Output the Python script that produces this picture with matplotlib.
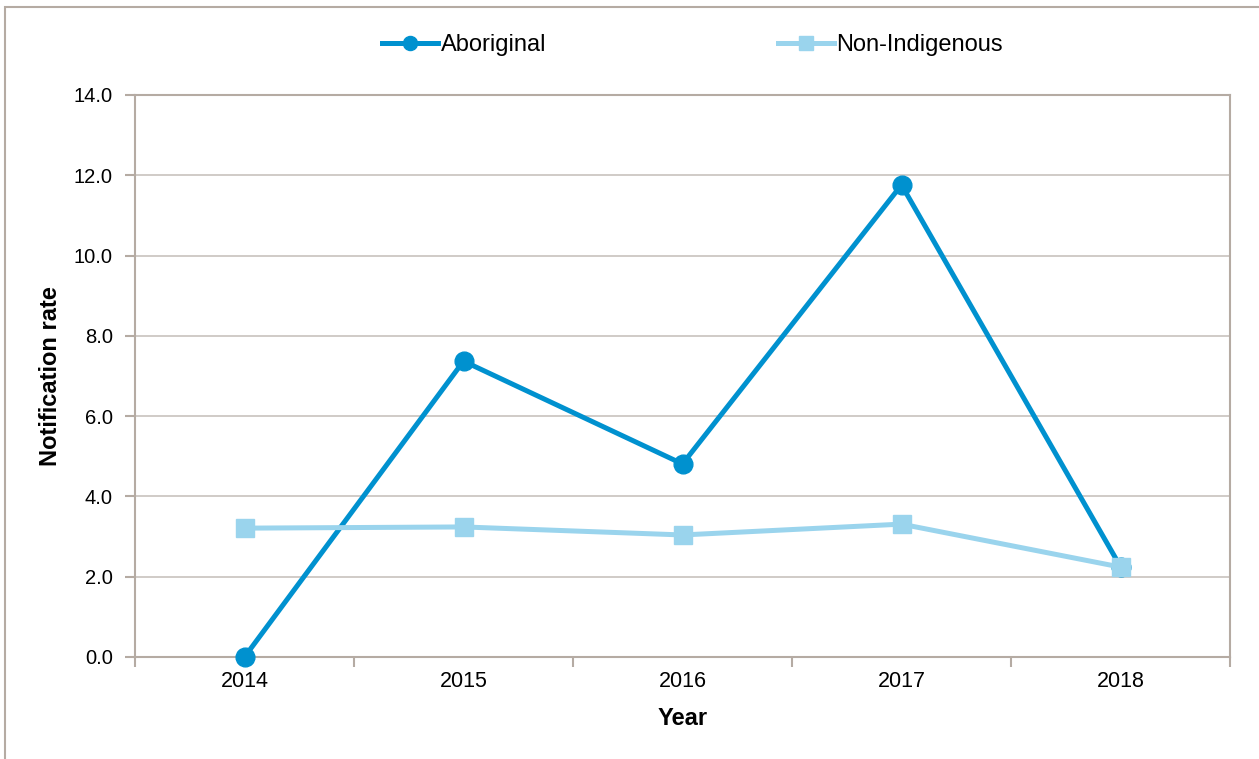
import matplotlib.pyplot as plt
from matplotlib.patches import Rectangle

plt.rcParams['font.family'] = ['Liberation Sans', 'DejaVu Sans']

years = ['2014', '2015', '2016', '2017', '2018']
aboriginal = [0.0, 7.37, 4.81, 11.76, 2.25]
non_indigenous = [3.21, 3.24, 3.04, 3.31, 2.24]

grey = '#b5aba3'
dark_blue = '#0091cf'
light_blue = '#9ad4ed'

fig = plt.figure(figsize=(12.59, 7.59), dpi=100)
ax = fig.add_axes([135 / 1259, 1 - 657 / 759, (1230 - 135) / 1259, (657 - 95) / 759])

# outer chart frame (cut at right and bottom in the original)
fig.patches.append(Rectangle((5 / 1259, -0.1), 1.2, 1 - 7 / 759 + 0.1, transform=fig.transFigure,
                             fill=False, edgecolor=grey, linewidth=1.5))

x = range(len(years))
ax.plot(x, aboriginal, color=dark_blue, linewidth=3.6, marker='o', markersize=13.5,
        label='Aboriginal', zorder=3, clip_on=False)
ax.plot(x, non_indigenous, color=light_blue, linewidth=3.6, marker='s', markersize=13.5,
        label='Non-Indigenous', zorder=3, clip_on=False)

ax.set_xlim(-0.5, 4.5)
ax.set_ylim(0, 14)
ax.set_yticks([0, 2, 4, 6, 8, 10, 12, 14])
ax.set_yticklabels([f'{v:.1f}' for v in range(0, 15, 2)])
ax.set_xticks(list(x))
ax.set_xticklabels(years)
ax.set_xticks([i - 0.5 for i in range(len(years) + 1)], minor=True)
ax.tick_params(axis='x', which='major', length=0, pad=10, labelsize=15.5)
ax.tick_params(axis='x', which='minor', length=7, width=1.5, color=grey, direction='out')
ax.tick_params(axis='y', length=7, width=1.5, color=grey, labelsize=14.5, pad=9)

ax.grid(axis='y', color='#c8c2bd', linewidth=1.2)
ax.set_axisbelow(True)
for s in ax.spines.values():
    s.set_color(grey)
    s.set_linewidth(1.5)

ax.set_xlabel('Year', fontsize=17, fontweight='bold')
ax.set_ylabel('Notification rate', fontsize=17, fontweight='bold')
ax.xaxis.set_label_coords(0.5, -0.089)
ax.yaxis.set_label_coords(-0.0667, 0.5)

fig.legend(loc='center', bbox_to_anchor=(0.55, 1 - 45 / 759), ncol=2, frameon=False,
           fontsize=17, columnspacing=9.8, handlelength=2.4, handletextpad=0.1, markerscale=0.75)

fig.savefig('out.png', dpi=100)
